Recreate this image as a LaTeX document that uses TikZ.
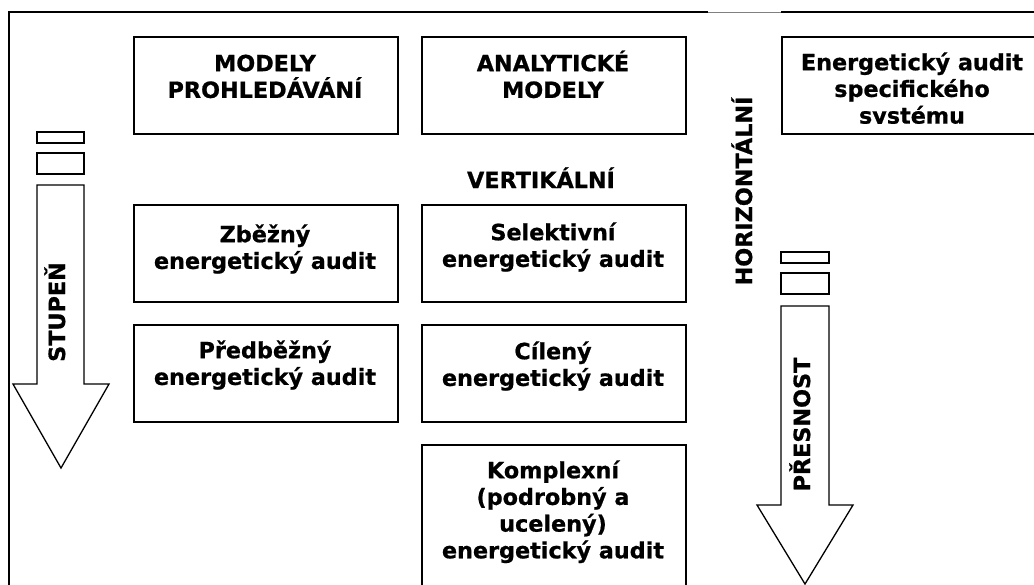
\documentclass[tikz,border=0pt]{standalone}
\usepackage{fontspec}
\setmainfont{DejaVu Sans}[BoldFeatures={FakeBold=0.8}]
\newcommand{\tstrut}{\rule{0pt}{24pt}}
\begin{document}
\begin{tikzpicture}[x=1pt,y=-1pt,
  box/.style={draw, line width=1.6pt, minimum width=264pt, minimum height=97pt, inner sep=0pt, anchor=north west},
  lbl/.style={font=\bfseries\fontsize{22.3}{26.7}\selectfont, align=center, inner sep=0pt, anchor=north},
  hlbl/.style={font=\bfseries\fontsize{22.3}{26.7}\selectfont, inner sep=0pt, anchor=base},
  rot/.style={hlbl, rotate=90},
  shp/.style={draw, line width=1.3pt, line join=miter, fill=white},
  frame/.style={line width=1.4pt}]
\clip (0,0) rectangle (1034,584);
% frame
\draw[frame] (9,600) -- (9,12) -- (708,12);
\draw[line width=0.6pt, gray] (708,12) -- (781,12);
\draw[frame] (781,12) -- (1045,12);
% boxes
\node[box] (mp) at (133,36) {};
\node[box] (am) at (421,36) {};
\node[box] (es) at (781,36) {};
\node[box] (zb) at (133,204) {};
\node[box] (se) at (421,204) {};
\node[box] (pr) at (133,324) {};
\node[box] (ci) at (421,324) {};
\node[box, minimum height=160pt] (ko) at (421,444) {};
% box texts
\node[lbl] (mpt) at (265,47) {\tstrut MODELY\\PROHLEDÁVÁNÍ};
\node[lbl] (amt) at (553,47) {\tstrut ANALYTICKÉ\\MODELY};
\begin{scope}
  \clip (781,36) rectangle (1045,123);
  \node[lbl] (est) at (912,46) {\tstrut Energetický audit\\specifického\\systému};
\end{scope}
\node[lbl] (zbt) at (265,218) {\tstrut Zběžný\\energetický audit};
\node[lbl] (set) at (553,216) {\tstrut Selektivní\\energetický audit};
\node[lbl] (prt) at (265,334) {\tstrut Předběžný\\energetický audit};
\node[lbl] (cit) at (553,335) {\tstrut Cílený\\energetický audit};
\node[lbl] (kot) at (553,454) {\tstrut Komplexní\\(podrobný a\\ucelený)\\energetický audit};
% left arrow
\draw[shp] (37,132) rectangle (84,143);
\draw[shp] (37,153) rectangle (84,174);
\draw[shp] (37,185) -- (84,185) -- (84,384) -- (109,384) -- (61,468) -- (13,384) -- (37,384) -- cycle;
% right arrow
\draw[shp] (781,252) rectangle (829,263);
\draw[shp] (781,273) rectangle (829,294);
\draw[shp] (781,306) -- (829,306) -- (829,505) -- (853,505) -- (805,584) -- (757,505) -- (781,505) -- cycle;
% axis labels
\node[hlbl] (vert) at (541,188) {VERTIKÁLNÍ};
\node[rot] (stup) at (65,312) {STUPEŇ};
\node[rot] (hor) at (752,191) {HORIZONTÁLNÍ};
\node[rot] (pres) at (810,424.5) {PŘESNOST};
\end{tikzpicture}
\end{document}
